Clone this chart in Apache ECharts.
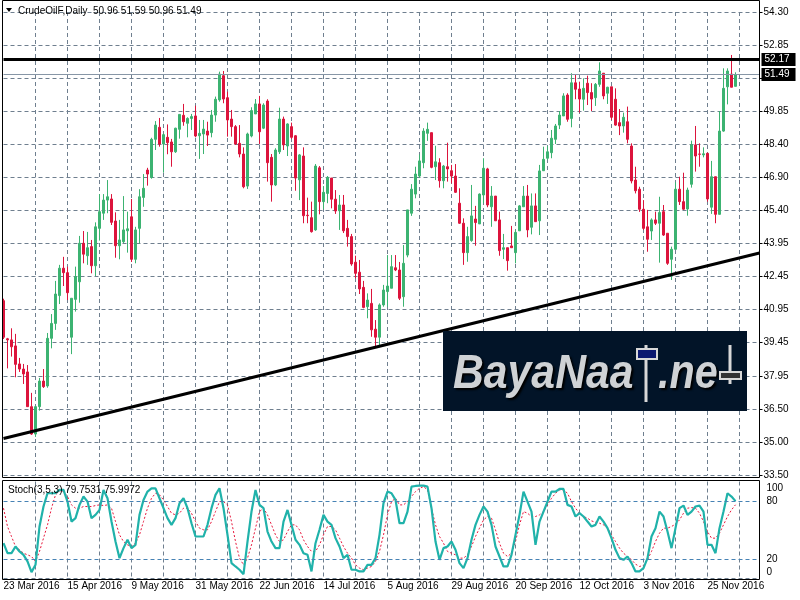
<!DOCTYPE html>
<html><head><meta charset="utf-8">
<script src="https://cdn.jsdelivr.net/npm/echarts@6/dist/echarts.min.js"></script>
<style>html,body{margin:0;padding:0;background:#fff}#c{width:800px;height:600px}</style>
</head><body><div id="c"></div>
<script>
// ---------- DATA ----------
const opens = [41.33,39.62,39.57,39.30,38.49,38.26,38.13,36.57,35.34,36.57,37.72,37.50,39.64,40.31,41.56,42.79,42.59,39.69,41.39,42.18,
43.91,43.35,43.76,42.90,44.58,45.26,45.85,45.90,44.91,43.80,43.98,44.47,45.10,43.19,44.58,45.97,47.20,46.87,48.58,49.12,
48.37,48.67,48.46,48.02,49.03,49.66,49.30,49.52,49.63,48.74,48.82,48.95,48.88,49.67,50.35,51.44,50.45,49.49,49.15,48.40,
47.92,46.48,48.73,49.72,50.17,49.08,50.30,47.77,46.53,48.02,49.49,48.28,49.15,48.74,46.76,47.83,45.17,45.06,44.51,47.30,
45.78,46.15,46.84,45.89,45.37,45.63,44.58,44.21,43.06,42.61,41.93,41.06,41.21,40.05,39.69,41.14,41.74,41.89,42.81,42.71,
41.51,43.38,45.26,46.12,46.93,47.53,48.85,48.88,47.35,47.53,46.72,47.35,47.17,46.93,45.71,44.81,43.49,44.03,45.00,44.78,
46.08,47.25,45.55,46.03,44.96,43.64,43.71,43.79,43.49,44.47,45.55,46.03,44.63,45.59,44.92,47.17,47.73,47.98,48.58,49.22,
49.63,50.57,49.52,51.12,50.84,50.38,51.10,50.68,50.45,51.05,51.55,50.65,50.94,50.38,49.33,49.18,49.37,48.28,46.75,46.34,
45.44,44.65,44.46,44.96,44.81,45.33,44.36,43.19,43.64,46.34,45.78,45.45,46.56,48.33,47.92,47.88,47.95,45.53,46.90,45.21,
48.95,50.94,51.51,50.96];
const highs = [41.42,39.66,40.09,39.84,38.76,38.49,38.44,37.19,36.60,37.86,38.26,39.88,40.73,42.22,42.94,43.30,42.86,41.44,42.86,44.24,
44.46,44.42,44.06,44.85,46.12,46.12,46.75,46.12,45.30,44.96,46.03,45.33,45.90,44.65,46.34,47.02,47.30,48.65,49.40,49.54,
48.85,49.25,48.60,49.10,49.70,50.17,49.57,49.72,50.09,49.45,49.45,49.37,49.90,50.50,51.62,51.65,50.72,49.90,49.22,49.22,
48.22,48.88,50.02,50.39,50.53,50.20,50.38,47.92,48.18,50.00,49.60,49.30,49.33,48.77,47.92,48.22,45.96,45.78,47.47,47.38,
46.48,46.93,46.84,46.30,46.08,46.08,44.96,44.33,43.35,43.16,42.22,41.66,41.86,40.46,41.21,42.04,43.38,43.38,43.38,43.07,
43.83,45.41,46.57,47.35,47.90,49.08,49.33,48.88,48.29,47.73,47.43,48.43,47.43,47.47,46.38,45.03,44.65,46.53,45.59,46.15,
47.73,47.30,46.48,46.03,45.33,44.33,43.71,44.69,44.51,45.63,46.48,46.53,46.15,46.15,47.43,48.25,48.28,49.00,49.27,49.85,
50.65,50.65,51.55,51.51,51.17,51.32,51.44,51.10,51.11,52.04,51.55,50.94,50.94,50.87,49.94,49.78,50.05,48.40,47.35,46.45,
45.85,45.41,45.03,45.33,46.00,45.63,44.36,43.76,46.65,46.90,47.08,46.41,48.52,49.18,48.40,48.22,47.98,47.61,46.90,49.85,
51.77,51.77,52.37,51.59];
const lows = [39.61,38.29,38.82,37.89,38.13,37.59,36.56,35.30,35.21,36.39,37.41,37.42,39.19,40.02,41.18,41.99,41.36,38.93,40.84,41.24,
43.01,42.94,42.56,42.44,44.03,44.96,45.26,44.73,43.26,43.19,43.92,43.49,43.07,43.01,43.91,45.55,46.50,46.81,48.10,48.25,
47.08,47.91,47.35,47.97,48.61,49.19,48.67,49.00,48.67,47.70,47.92,48.28,48.67,49.37,50.27,50.20,48.70,48.70,48.33,47.77,
46.38,46.35,48.67,49.72,48.37,49.04,46.68,45.78,46.48,47.92,48.10,47.83,48.60,46.27,45.85,44.81,44.81,44.39,44.47,45.21,
45.44,45.71,45.48,45.23,44.51,44.37,43.76,42.90,42.34,41.63,40.99,40.54,39.71,39.26,39.34,41.06,41.06,41.89,42.66,41.36,
41.06,43.28,45.14,45.93,46.84,47.28,48.51,47.28,46.75,46.41,46.38,46.68,46.60,46.17,44.78,42.94,43.08,43.98,43.80,44.78,
45.71,45.53,44.65,44.91,43.35,43.20,42.68,43.70,43.01,44.46,45.54,44.18,44.31,44.87,44.28,47.16,47.65,47.73,48.37,49.04,
49.63,49.37,49.12,50.38,49.78,49.87,50.12,49.85,50.08,50.94,50.38,50.17,49.45,49.19,48.77,48.88,48.40,46.60,46.15,45.32,
44.51,43.53,44.06,44.73,43.04,44.24,42.94,42.26,43.61,45.63,45.41,45.15,46.41,47.13,47.35,47.77,45.78,45.23,44.81,45.21,
48.92,50.15,50.92,50.96];
const closes = [39.69,39.57,39.26,38.47,38.26,38.04,36.57,35.34,36.57,37.72,37.47,39.64,40.31,41.63,42.79,42.59,41.69,41.44,42.41,43.91,
43.42,43.71,42.90,44.65,45.33,45.85,46.00,44.85,43.80,44.06,44.51,44.56,43.19,44.51,46.00,46.38,47.02,48.58,49.22,48.37,
48.79,48.43,48.02,49.08,49.70,49.37,49.52,49.60,48.73,48.85,49.04,48.77,49.67,50.38,51.51,50.39,49.45,49.15,48.37,47.92,
46.45,48.82,49.87,50.17,48.92,50.12,47.53,46.53,48.10,49.49,48.33,49.27,48.67,46.84,47.88,45.15,45.15,44.43,47.38,45.78,
46.20,46.87,45.89,45.36,45.63,44.47,44.21,42.98,42.56,41.86,41.03,41.36,40.02,39.69,41.14,41.81,41.99,42.86,42.71,41.44,
43.01,45.41,46.34,47.02,47.61,48.95,49.03,47.32,47.57,46.72,47.38,47.25,46.93,46.20,44.81,43.49,44.21,45.14,44.84,46.12,
47.28,45.63,46.03,44.92,43.58,43.71,43.13,43.71,44.40,45.59,46.03,44.51,45.59,44.88,47.16,47.68,48.02,48.63,49.18,49.67,
50.53,49.48,51.12,50.83,50.39,50.87,50.68,50.39,51.05,51.65,50.53,50.92,49.57,49.22,49.18,49.57,48.58,46.71,46.27,45.44,
44.58,44.09,44.96,44.81,45.29,44.28,43.01,43.64,46.34,45.78,45.44,46.30,48.33,47.83,47.91,47.93,45.90,46.90,45.21,48.95,
50.87,51.65,50.92,51.49];
const stochK = [36.4,26.1,26.1,33.0,27.9,24.4,17.6,6.6,14.1,53.6,74.2,87.9,87.9,87.9,91.3,91.3,79.3,58.7,62.2,75.9,
84.5,79.3,62.2,65.6,70.7,91.3,82.7,58.7,38.1,21.0,31.3,39.9,31.3,34.7,65.6,81.0,89.6,93.0,93.0,82.7,
72.5,62.2,55.3,62.2,77.6,82.7,72.5,57.0,43.3,43.3,43.3,55.3,72.5,86.2,93.0,72.5,45.0,15.9,12.4,9.0,
4.5,38.1,69.0,91.3,75.9,72.5,48.4,38.1,31.3,31.3,58.7,70.7,55.3,39.9,34.7,26.1,24.4,7.3,36.4,50.2,
65.6,58.7,55.3,41.6,33.0,21.0,24.4,9.0,9.0,7.3,7.3,14.1,14.1,21.0,45.0,77.6,89.6,87.9,81.0,57.0,
57.0,69.0,94.7,95.4,95.8,95.8,94.7,72.5,38.1,19.3,31.3,33.0,38.1,29.6,15.9,10.7,21.0,39.9,55.3,65.6,
74.2,69.0,55.3,33.0,22.7,12.4,12.4,24.4,45.0,65.6,89.6,79.3,69.0,34.7,58.7,69.0,79.3,89.6,89.6,92.3,
92.3,75.9,74.2,63.9,67.3,63.9,58.7,53.6,55.3,63.9,58.7,51.9,41.6,29.6,21.0,19.3,22.7,15.9,7.3,7.3,
10.7,21.0,43.3,51.9,69.0,63.9,48.4,31.3,51.9,72.5,75.2,65.6,69.0,74.2,75.2,69.0,34.7,34.7,26.1,51.9,
69.0,87.9,84.5,79.75];
const stochD = [72.5,53.6,43.3,33.0,29.6,26.1,24.4,22.7,17.6,27.9,41.6,55.3,72.5,86.2,90.3,89.6,84.5,75.9,72.5,72.5,
74.2,74.2,74.2,75.2,75.9,75.2,75.9,72.5,58.7,45.0,38.1,34.7,33.0,36.4,45.0,58.7,72.5,82.7,87.9,86.2,
81.0,74.2,67.3,65.6,67.3,72.5,72.5,67.3,58.7,51.9,50.2,50.2,58.7,69.0,79.3,79.3,75.9,58.7,38.1,21.0,
14.1,21.0,34.7,51.9,69.0,72.5,65.6,55.3,45.0,38.1,39.9,48.4,55.3,55.3,50.2,39.9,33.0,27.9,27.9,34.7,
45.0,53.6,53.6,50.2,41.6,33.0,26.1,21.0,14.1,10.7,9.0,10.7,12.4,17.6,27.9,45.0,65.6,79.3,82.7,75.9,
75.9,79.3,84.5,89.6,93.0,94.7,91.3,72.5,55.3,43.3,36.4,27.9,26.1,24.4,21.0,21.0,24.4,33.0,43.3,51.9,
60.4,63.9,62.2,50.2,36.4,26.1,22.7,26.1,38.1,55.3,69.0,67.3,63.9,63.9,65.6,69.0,75.9,82.7,87.9,91.3,
91.3,87.9,79.3,72.5,67.3,63.9,62.2,59.4,58.0,57.0,55.3,51.9,45.0,38.1,31.3,26.1,22.7,19.3,14.8,12.4,
13.5,19.3,27.9,38.1,46.7,51.9,51.9,53.6,56.0,60.4,67.3,72.5,73.1,72.5,67.3,58.7,48.4,41.6,41.6,46.7,
55.3,63.9,70.7,76.0];
const priceTickLabels = ['33.50','35.00','36.50','37.95','39.45','40.95','42.45','43.95','45.40','46.90','48.40','49.85','','52.85','54.30'];
const stochTickLabels = {0:'0',20:'20',80:'80',100:'100'};
const stochLevels = [20, 80];
const resistanceLevel = 52.17;
const lastPrice = 51.49;
const trendPoints = [[0, 35.14], [189, 43.47]];
const skippedDays = ['2016-03-25'];
const futureSlots = 6;

// ---------- CATEGORIES ----------
const MONTHS = ['Jan','Feb','Mar','Apr','May','Jun','Jul','Aug','Sep','Oct','Nov','Dec'];
function buildCategories(n) {
  const out = [];
  const d = new Date(Date.UTC(2016, 2, 23));
  while (out.length < n) {
    const wd = d.getUTCDay();
    const iso = d.toISOString().slice(0, 10);
    if (wd !== 0 && wd !== 6 && skippedDays.indexOf(iso) < 0) {
      out.push(d.getUTCDate() + ' ' + MONTHS[d.getUTCMonth()] + ' ' + d.getUTCFullYear());
    }
    d.setUTCDate(d.getUTCDate() + 1);
  }
  for (let i = 0; i < futureSlots; i++) out.push('');
  return out;
}
const categories = buildCategories(opens.length);
const candleData = opens.map((o, i) => [o, closes[i], lows[i], highs[i]]);

// ---------- STYLE ----------
const FONT = 'Liberation Sans';
const GRID_COLOR = '#6f7f8f';
const UP = '#3CB371', DOWN = '#DC143C';
const priceStep = (54.3 - 33.5) / 14;
const vSplit = { show: true, interval: (i) => i > 0 && i % 8 === 0, lineStyle: { color: GRID_COLOR, type: [4, 3], width: 1 } };
const boxLabel = (txt) => ({ show: true, position: 'end', formatter: txt, color: '#fff', backgroundColor: '#000',
  padding: [2, 6, 1, 3], fontSize: 10, fontFamily: FONT, distance: 2 });
const wmFont = 'italic bold 48px "Liberation Sans"';
const wmText = { fill: '#cfd2d5', verticalAlign: 'bottom', textShadowColor: '#000', textShadowBlur: 2, textShadowOffsetX: 2, textShadowOffsetY: 2 };

const chart = echarts.init(document.getElementById('c'), null, { renderer: 'canvas' });
chart.setOption({
  animation: false,
  backgroundColor: '#fff',
  grid: [
    { left: 3.5, right: 40.5, top: 12, height: 463 },
    { left: 3.5, right: 40.5, top: 481.5, height: 97 }
  ],
  xAxis: [
    { type: 'category', gridIndex: 0, data: categories, boundaryGap: false,
      axisLine: { show: false }, axisTick: { show: false }, axisLabel: { show: false }, splitLine: vSplit },
    { type: 'category', gridIndex: 1, data: categories, boundaryGap: false,
      axisLine: { show: false }, axisTick: { show: false },
      axisLabel: { show: true, interval: 15, align: 'left', margin: 3, color: '#000', fontSize: 10, fontFamily: FONT },
      splitLine: vSplit }
  ],
  yAxis: [
    { type: 'value', gridIndex: 0, position: 'right', min: 33.5, max: 54.3, interval: priceStep,
      axisLine: { show: false }, axisTick: { show: true, length: 3, lineStyle: { color: '#000' } },
      axisLabel: { margin: 4, color: '#000', fontSize: 10, fontFamily: FONT,
        formatter: (v) => { const k = Math.round((v - 33.5) / priceStep); return priceTickLabels[k] || ''; } },
      splitLine: { show: true, lineStyle: { color: GRID_COLOR, type: [4, 3], width: 1 } } },
    { type: 'value', gridIndex: 1, position: 'right', min: 0, max: 100, interval: 20,
      axisLine: { show: false }, axisTick: { show: false }, splitLine: { show: false },
      axisLabel: { margin: 7, color: '#000', fontSize: 10, fontFamily: FONT, showMinLabel: true, showMaxLabel: true,
        formatter: (v) => {
          const t = stochTickLabels[v]; if (t === undefined) return '';
          if (v === 100) return '{a|' + t + '}';
          if (v === 0) return '{b|' + t + '}';
          return t;
        },
        rich: { a: { padding: [13, 0, 0, 0], fontSize: 10, fontFamily: FONT, color: '#000' },
                b: { padding: [0, 0, 13, 0], fontSize: 10, fontFamily: FONT, color: '#000' } } } }
  ],
  series: [
    { type: 'candlestick', xAxisIndex: 0, yAxisIndex: 0, data: candleData, barWidth: 2, clip: false,
      itemStyle: { color: UP, color0: DOWN, borderColor: UP, borderColor0: DOWN, borderWidth: 1 },
      markLine: { symbol: 'none', silent: true, animation: false,
        data: [
          { yAxis: resistanceLevel, lineStyle: { color: '#000', width: 3, type: 'solid' }, label: boxLabel(resistanceLevel.toFixed(2)) },
          { yAxis: lastPrice, lineStyle: { color: '#8796a6', width: 1, type: 'solid' }, label: boxLabel(lastPrice.toFixed(2)) },
          [ { coord: trendPoints[0], lineStyle: { color: '#000', width: 3, type: 'solid' }, label: { show: false } },
            { coord: trendPoints[1] } ]
        ] } },
    { type: 'line', xAxisIndex: 1, yAxisIndex: 1, data: stochK, symbol: 'none', showSymbol: false,
      lineStyle: { color: '#20B2AA', width: 2.2 }, z: 3,
      markLine: { symbol: 'none', silent: true, animation: false, label: { show: false },
        data: stochLevels.map((v) => ({ yAxis: v, lineStyle: { color: '#4682B4', type: [4, 3], width: 1 } }))
          .concat([{ yAxis: 0, lineStyle: { color: GRID_COLOR, type: [4, 3], width: 1 } }]) } },
    { type: 'line', xAxisIndex: 1, yAxisIndex: 1, data: stochD, symbol: 'none', showSymbol: false,
      lineStyle: { color: '#e8173c', width: 1, type: [2, 2] }, z: 2 }
  ],
  graphic: [
    { type: 'rect', shape: { x: 2.5, y: 0.5, width: 757, height: 477 }, style: { fill: null, stroke: '#000', lineWidth: 1 }, silent: true, z: 50 },
    { type: 'rect', shape: { x: 2.5, y: 480.5, width: 757, height: 99 }, style: { fill: null, stroke: '#000', lineWidth: 1 }, silent: true, z: 50 },
    { type: 'polygon', shape: { points: [[6, 8], [12, 8], [9, 12]] }, style: { fill: '#000' }, z: 50 },
    { type: 'text', x: 18, y: 11, style: { text: 'CrudeOilF,Daily  50.96 51.59 50.96 51.49', fontSize: 10, fontFamily: FONT, fill: '#000', verticalAlign: 'middle' }, z: 50 },
    { type: 'text', x: 8, y: 490, style: { text: 'Stoch(3,5,3) 79.7531 75.9972', fontSize: 10, fontFamily: FONT, fill: '#000', verticalAlign: 'middle' }, z: 50 },
    // watermark
    { type: 'rect', shape: { x: 443, y: 331, width: 304, height: 80 }, style: { fill: '#021428' }, z: 60 },
    { type: 'text', x: 453, y: 399, scaleX: 0.89, style: Object.assign({ text: 'BayaNaa', font: wmFont }, wmText), z: 61 },
    { type: 'line', shape: { x1: 646, y1: 345, x2: 646, y2: 402 }, style: { stroke: '#d8d8d8', lineWidth: 3 }, z: 61 },
    { type: 'rect', shape: { x: 637, y: 349, width: 20, height: 10 }, style: { fill: '#0b1870', stroke: '#d8d8d8', lineWidth: 2 }, z: 62 },
    { type: 'text', x: 658, y: 399, scaleX: 0.86, style: Object.assign({ text: '.ne', font: wmFont }, wmText), z: 61 },
    { type: 'line', shape: { x1: 730, y1: 345, x2: 730, y2: 384 }, style: { stroke: '#d8d8d8', lineWidth: 3 }, z: 61 },
    { type: 'rect', shape: { x: 720, y: 372, width: 21, height: 7 }, style: { fill: '#333', stroke: '#d8d8d8', lineWidth: 2 }, z: 62 }
  ]
});
</script>
</body></html>
